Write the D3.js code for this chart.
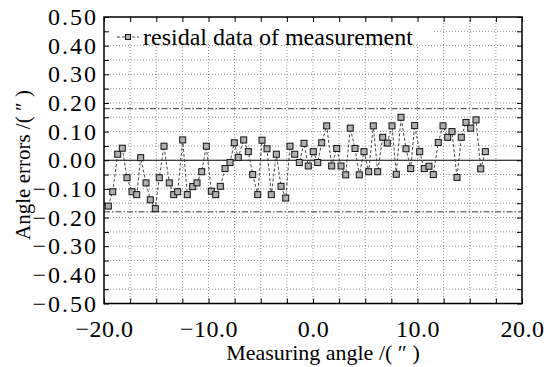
<!DOCTYPE html>
<html>
<head>
<meta charset="utf-8">
<script src="https://cdn.jsdelivr.net/npm/d3@7"></script>
<style>
  body { margin: 0; background: #fff; }
  text { font-family: "Liberation Serif", "Times New Roman", serif; fill: #000; }
</style>
</head>
<body>
<svg id="chart" width="548" height="367"></svg>
<script>
// measuring angle (″) and residual error (″)
const angles = [
  -19.59, -19.17, -18.69, -18.25, -17.80, -17.32, -16.87, -16.49, -15.98, -15.57,
  -15.09, -14.71, -14.26, -13.75, -13.33, -12.95, -12.47, -12.03, -11.51, -11.10,
  -10.65, -10.21, -9.73, -9.31, -8.87, -8.42, -7.94, -7.53, -7.15, -6.63,
  -6.19, -5.77, -5.29, -4.88, -4.40, -3.99, -3.51, -3.06, -2.61, -2.20,
  -1.75, -1.31, -0.86, -0.45, 0.03, 0.45, 0.83, 1.31, 1.79, 2.27,
  2.68, 3.13, 3.57, 4.02, 4.43, 4.88, 5.33, 5.77, 6.19, 6.67,
  7.11, 7.56, 7.97, 8.42, 8.90, 9.35, 9.73, 10.21, 10.65, 11.10,
  11.51, 11.99, 12.44, 12.89, 13.30, 13.78, 14.19, 14.64, 15.09, 15.60,
  16.05, 16.49
];
const residuals = [
  -0.160, -0.110, 0.021, 0.042, -0.061, -0.110, -0.120, 0.009, -0.079, -0.138,
  -0.169, -0.061, 0.049, -0.079, -0.120, -0.110, 0.071, -0.120, -0.092, -0.079,
  -0.040, 0.049, -0.108, -0.120, -0.091, -0.029, -0.008, 0.061, 0.010, 0.071,
  0.030, -0.050, -0.120, 0.070, 0.040, -0.120, 0.021, -0.091, -0.132, 0.049,
  0.021, -0.008, 0.059, -0.020, 0.030, -0.008, 0.061, 0.120, -0.020, 0.041,
  -0.020, -0.051, 0.112, 0.041, -0.051, 0.030, -0.040, 0.120, -0.040, 0.080,
  0.060, 0.120, -0.049, 0.150, 0.040, -0.029, 0.121, 0.030, -0.029, -0.021,
  -0.050, 0.062, 0.120, 0.080, 0.100, -0.060, 0.080, 0.132, 0.112, 0.141,
  -0.030, 0.030
];
const limits = [0.18, -0.18];
const xTickLabels = [-20, -10, 0, 10, 20];
const yTickLabels = [-0.5, -0.4, -0.3, -0.2, -0.1, 0, 0.1, 0.2, 0.3, 0.4, 0.5];
const legendLabel = "residal data of measurement";

const data = angles.map((a, i) => ({angle: a, err: residuals[i]}));
const serif = '"Liberation Serif", "Times New Roman", serif';

const svg = d3.select("#chart");
const pLeft = 104, pRight = 522, pTop = 17, pBottom = 303.5;

const x = d3.scaleLinear().domain([-20, 20]).range([pLeft, pRight]);
const y = d3.scaleLinear().domain([-0.5, 0.5]).range([pBottom, pTop]);

const xMinor = d3.range(-20, 20.01, 2.5);
const yMinor = d3.range(-0.5, 0.501, 0.05).map(v => +v.toFixed(2));

// grid
svg.append("g").selectAll("line")
  .data(xMinor.slice(1, -1))
  .enter().append("line")
  .attr("x1", d => x(d)).attr("x2", d => x(d))
  .attr("y1", pTop).attr("y2", pBottom)
  .attr("stroke", "#777").attr("stroke-width", 0.8)
  .attr("stroke-dasharray", "1,2");

svg.append("g").selectAll("line")
  .data(yMinor.slice(1, -1).filter(d => d !== 0))
  .enter().append("line")
  .attr("x1", pLeft).attr("x2", pRight)
  .attr("y1", d => y(d)).attr("y2", d => y(d))
  .attr("stroke", "#777").attr("stroke-width", 0.8)
  .attr("stroke-dasharray", "1,2");

// zero line and limit lines
svg.append("line")
  .attr("x1", pLeft).attr("x2", pRight)
  .attr("y1", y(0)).attr("y2", y(0))
  .attr("stroke", "#000").attr("stroke-width", 1.2);

svg.append("g").selectAll("line")
  .data(limits)
  .enter().append("line")
  .attr("x1", pLeft).attr("x2", pRight)
  .attr("y1", d => y(d)).attr("y2", d => y(d))
  .attr("stroke", "#222").attr("stroke-width", 0.9)
  .attr("stroke-dasharray", "6,2,1.5,2");

// legend background hides grid behind it
svg.append("rect")
  .attr("x", pLeft + 1).attr("y", pTop + 2)
  .attr("width", 328).attr("height", 25)
  .attr("fill", "#fff");

// axes with inward ticks on all four sides
const fmtY = d3.format(".2f");
const fmtX = d3.format(".1f");

svg.append("g")
  .attr("transform", `translate(0,${pBottom})`)
  .call(d3.axisBottom(x).tickValues(xMinor).tickSizeInner(-5).tickSizeOuter(0)
    .tickFormat(d => xTickLabels.includes(d) ? fmtX(d) : ""))
  .call(g => g.select(".domain").remove())
  .call(g => g.selectAll("text").attr("dy", "1.05em").attr("y", 8)
    .style("font-size", "24px").style("font-family", serif).style("letter-spacing", "0.5px"));

svg.append("g")
  .attr("transform", `translate(0,${pTop})`)
  .call(d3.axisTop(x).tickValues(xMinor).tickSizeInner(-5).tickSizeOuter(0).tickFormat(""))
  .call(g => g.select(".domain").remove());

svg.append("g")
  .attr("transform", `translate(${pLeft},0)`)
  .call(d3.axisLeft(y).tickValues(yMinor).tickSizeInner(-5).tickSizeOuter(0)
    .tickFormat(d => yTickLabels.some(v => Math.abs(v - d) < 1e-9) ? fmtY(d) : ""))
  .call(g => g.select(".domain").remove())
  .call(g => g.selectAll("text").attr("x", -6)
    .style("font-size", "24px").style("letter-spacing", "2px")
    .style("font-family", serif));

svg.append("g")
  .attr("transform", `translate(${pRight},0)`)
  .call(d3.axisRight(y).tickValues(yMinor).tickSizeInner(-5).tickSizeOuter(0).tickFormat(""))
  .call(g => g.select(".domain").remove());

svg.selectAll(".tick line").attr("stroke", "#000");

// frame
svg.append("rect")
  .attr("x", pLeft).attr("y", pTop)
  .attr("width", pRight - pLeft).attr("height", pBottom - pTop)
  .attr("fill", "none").attr("stroke", "#000").attr("stroke-width", 1.5);

// series
const line = d3.line().x(d => x(d.angle)).y(d => y(d.err));
svg.append("path")
  .datum(data)
  .attr("d", line)
  .attr("fill", "none")
  .attr("stroke", "#333").attr("stroke-width", 0.9)
  .attr("stroke-dasharray", "3,2");

svg.append("g").selectAll("rect")
  .data(data)
  .enter().append("rect")
  .attr("x", d => x(d.angle) - 3).attr("y", d => y(d.err) - 3)
  .attr("width", 6).attr("height", 6)
  .attr("fill", "#b0b0b0").attr("stroke", "#111").attr("stroke-width", 1);

// legend
const ly = 37;
svg.append("line")
  .attr("x1", 117).attr("x2", 139).attr("y1", ly).attr("y2", ly)
  .attr("stroke", "#333").attr("stroke-width", 0.9).attr("stroke-dasharray", "3,2");
svg.append("rect")
  .attr("x", 125.5).attr("y", ly - 2.5).attr("width", 5).attr("height", 5)
  .attr("fill", "#b0b0b0").attr("stroke", "#111").attr("stroke-width", 1);
svg.append("text")
  .attr("x", 143).attr("y", 45)
  .style("font-size", "24px")
  .text(legendLabel);

// axis titles
svg.append("text")
  .attr("x", 323).attr("y", 360)
  .attr("text-anchor", "middle")
  .style("font-size", "22px")
  .text("Measuring angle /( \u2033 )");

svg.append("text")
  .attr("transform", "translate(30,165) rotate(-90)")
  .attr("text-anchor", "middle")
  .style("font-size", "21px")
  .text("Angle errors /( \u2033 )");
</script>
</body>
</html>
